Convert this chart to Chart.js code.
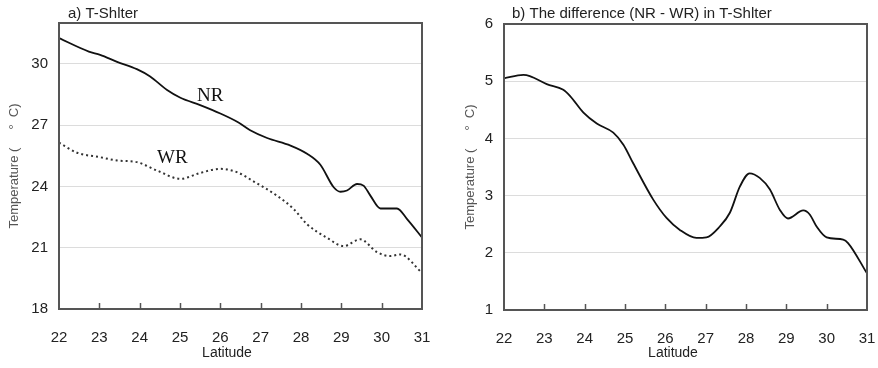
<!DOCTYPE html>
<html>
<head>
<meta charset="utf-8">
<script src="https://cdn.jsdelivr.net/npm/chart.js@4/dist/chart.umd.min.js"></script>
<style>
  body { margin: 0; background: #fff; }
  .panel { position: absolute; top: 0; height: 368px; }
  #left { left: 0; width: 440px; }
  #right { left: 440px; width: 438px; }
</style>
</head>
<body>
<div class="panel" id="left"><canvas id="chartA" width="440" height="368"></canvas></div>
<div class="panel" id="right"><canvas id="chartB" width="438" height="368"></canvas></div>
<script>
// latitude ticks shared by both panels
const latTicks = [22, 23, 24, 25, 26, 27, 28, 29, 30, 31];
const tempTicks = [18, 21, 24, 27, 30];
const diffTicks = [1, 2, 3, 4, 5, 6];

// a) T-Shlter, NR (solid)
const latNR = [22, 22.74, 23.02, 23.44, 23.93, 24.26, 24.68, 25.01, 25.5, 26.0, 26.45, 26.74, 27.16, 27.74, 28.15, 28.48, 28.81, 28.98, 29.14, 29.39, 29.55, 29.72, 29.97, 30.38, 30.63, 31];
const tempNR = [31.26, 30.6, 30.44, 30.1, 29.74, 29.38, 28.72, 28.34, 27.98, 27.57, 27.13, 26.75, 26.37, 26.0, 25.6, 25.06, 23.96, 23.74, 23.8, 24.12, 24.04, 23.55, 22.92, 22.92, 22.4, 21.5];

// a) T-Shlter, WR (dotted)
const latWR = [22, 22.45, 23.02, 23.44, 23.93, 24.43, 25.01, 25.5, 26.0, 26.41, 26.83, 27.4, 27.82, 28.15, 28.64, 29.06, 29.47, 29.88, 30.21, 30.46, 31];
const tempWR = [26.14, 25.65, 25.43, 25.27, 25.19, 24.78, 24.37, 24.66, 24.86, 24.7, 24.24, 23.55, 22.89, 22.15, 21.49, 21.08, 21.41, 20.79, 20.59, 20.67, 19.77];

// b) difference NR - WR
const latDiff = [22, 22.48, 22.64, 23.06, 23.47, 23.64, 23.97, 24.3, 24.71, 24.96, 25.2, 25.7, 26.03, 26.36, 26.77, 27.02, 27.35, 27.6, 27.85, 28.09, 28.34, 28.59, 28.84, 29.04, 29.42, 29.58, 29.75, 30.0, 30.41, 30.53, 31];
const tempDiff = [5.05, 5.11, 5.09, 4.95, 4.85, 4.74, 4.45, 4.26, 4.1, 3.89, 3.57, 2.93, 2.61, 2.4, 2.26, 2.27, 2.46, 2.7, 3.16, 3.39, 3.31, 3.11, 2.75, 2.6, 2.74, 2.67, 2.46, 2.27, 2.23, 2.17, 1.64];

// series name labels placed in data coordinates
const seriesLabels = [
  { text: "NR", x: 25.75, y: 28.45 },
  { text: "WR", x: 24.81, y: 25.4 }
];

const toPoints = (xs, ys) => xs.map((x, i) => ({ x: x, y: ys[i] }));

const FONT = "'Liberation Sans', Arial, sans-serif";

// box frame, inward x tick marks and panel texts
const framePlugin = {
  id: "frame",
  afterDraw(chart, args, opts) {
    const ctx = chart.ctx;
    const a = chart.chartArea;
    const xs = chart.scales.x;
    ctx.save();
    ctx.strokeStyle = "#555";
    ctx.lineWidth = 2;
    ctx.strokeRect(a.left, a.top, a.right - a.left, a.bottom - a.top);
    ctx.lineWidth = 1.5;
    latTicks.slice(1, -1).forEach(v => {
      const px = Math.round(xs.getPixelForValue(v)) + 0.5;
      ctx.beginPath();
      ctx.moveTo(px, a.bottom);
      ctx.lineTo(px, a.bottom - 6);
      ctx.stroke();
    });
    ctx.fillStyle = "#222";
    ctx.font = "15px " + FONT;
    ctx.textBaseline = "middle";
    ctx.textAlign = "left";
    ctx.fillText(opts.title, opts.titleX, 14);
    ctx.font = "14px " + FONT;
    ctx.textAlign = "center";
    ctx.fillText("Latitude", opts.latX, 353);
    if (opts.labels) {
      const ys = chart.scales.y;
      ctx.font = "19px 'Liberation Serif', 'Times New Roman', serif";
      ctx.fillStyle = "#111";
      opts.labels.forEach(l => {
        ctx.fillText(l.text, xs.getPixelForValue(l.x), ys.getPixelForValue(l.y));
      });
    }
    ctx.restore();
  }
};

function makeOptions(yMin, yMax, yTickList, pad, yWidth, xHeight, titlePad, frameOpts) {
  return {
    responsive: false,
    animation: false,
    layout: { padding: pad },
    plugins: {
      legend: { display: false },
      tooltip: { enabled: false },
      frame: frameOpts
    },
    elements: { point: { radius: 0 } },
    scales: {
      x: {
        type: "linear",
        min: 22,
        max: 31,
        afterBuildTicks: s => { s.ticks = latTicks.map(v => ({ value: v })); },
        afterFit: s => {
          s.height = xHeight;
          s.paddingLeft = 0;
          s.paddingRight = 0;
        },
        grid: { display: false, drawTicks: false },
        border: { display: false },
        ticks: { padding: 20, color: "#222", font: { family: FONT, size: 15 }, maxRotation: 0 }
      },
      y: {
        type: "linear",
        min: yMin,
        max: yMax,
        afterBuildTicks: s => { s.ticks = yTickList.map(v => ({ value: v })); },
        afterFit: s => { s.width = yWidth; },
        grid: { color: "#dcdcdc", lineWidth: 1, drawTicks: false },
        border: { display: false },
        ticks: { padding: 11, color: "#222", font: { family: FONT, size: 15 } },
        title: {
          display: true,
          text: "Temperature (     °  C)",
          color: "#555",
          font: { family: FONT, size: 13 },
          padding: { top: titlePad, bottom: 0 }
        }
      }
    }
  };
}

new Chart(document.getElementById("chartA"), {
  type: "line",
  data: {
    datasets: [
      {
        label: "NR",
        data: toPoints(latNR, tempNR),
        borderColor: "#111",
        borderWidth: 1.8,
        tension: 0.4,
        cubicInterpolationMode: "monotone",
        fill: false
      },
      {
        label: "WR",
        data: toPoints(latWR, tempWR),
        borderColor: "#333",
        borderWidth: 2,
        borderDash: [2, 3],
        tension: 0.4,
        cubicInterpolationMode: "monotone",
        fill: false
      }
    ]
  },
  options: makeOptions(18, 32, tempTicks, { top: 23, right: 18, left: 0, bottom: 0 }, 59, 59, 7,
    { title: "a) T-Shlter", titleX: 68, latX: 227, labels: seriesLabels }),
  plugins: [framePlugin]
});

new Chart(document.getElementById("chartB"), {
  type: "line",
  data: {
    datasets: [
      {
        label: "NR - WR",
        data: toPoints(latDiff, tempDiff),
        borderColor: "#111",
        borderWidth: 1.8,
        tension: 0.4,
        cubicInterpolationMode: "monotone",
        fill: false
      }
    ]
  },
  options: makeOptions(1, 6, diffTicks, { top: 24, right: 11, left: 0, bottom: 0 }, 64, 58, 23,
    { title: "b) The difference (NR - WR) in T-Shlter", titleX: 72, latX: 233 }),
  plugins: [framePlugin]
});
</script>
</body>
</html>
